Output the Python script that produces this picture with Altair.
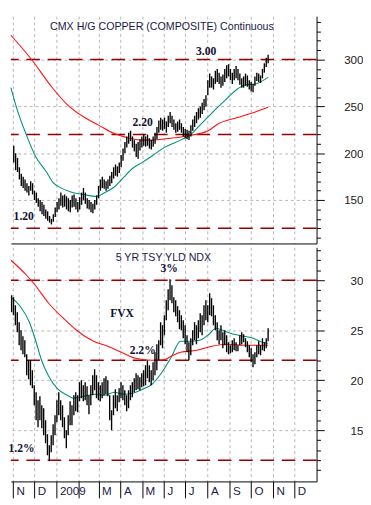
import altair as alt
import pandas as pd

# ---------------- copper (cents/lb), high / low about every 2.6 days ----------------
cu_first_day = "2008-11-02"
cu_last_day = "2009-10-25"
cu_high = [208, 200, 195, 185, 178, 175, 172, 168, 165, 170,
           168, 160, 158, 152, 150, 148, 145, 140, 138, 133,
           130, 135, 142, 148, 152, 158, 155, 156, 154, 152,
           150, 155, 156, 152, 148, 153, 158, 163, 158, 152,
           150, 148, 146, 150, 155, 165, 172, 175, 172, 170,
           172, 176, 180, 185, 188, 186, 190, 198, 205, 212,
           218, 222, 224, 218, 214, 210, 212, 215, 218, 220,
           218, 220, 216, 214, 218, 222, 228, 235, 238, 236,
           238, 234, 240, 244, 240, 236, 232, 234, 236, 232,
           228, 226, 225, 224, 230, 236, 240, 244, 248, 250,
           254, 258, 262, 278, 285, 282, 280, 288, 290, 286,
           282, 284, 290, 294, 295, 290, 286, 290, 293, 290,
           285, 280, 282, 285, 283, 278, 276, 274, 282, 286,
           285, 283, 290, 296, 302, 305]
cu_low = [190, 182, 180, 172, 165, 163, 160, 158, 155, 160,
          156, 150, 147, 143, 138, 135, 133, 130, 128, 126,
          124, 127, 132, 137, 140, 144, 142, 143, 140, 138,
          137, 142, 143, 140, 137, 140, 145, 150, 146, 141,
          140, 137, 136, 140, 145, 152, 160, 163, 162, 160,
          162, 165, 168, 173, 176, 175, 179, 185, 192, 200,
          206, 210, 213, 206, 202, 196, 194, 203, 206, 208,
          207, 208, 205, 204, 207, 210, 215, 222, 225, 224,
          226, 222, 228, 232, 228, 225, 222, 223, 225, 222,
          218, 216, 215, 214, 218, 224, 228, 232, 236, 238,
          242, 246, 250, 262, 270, 270, 268, 274, 276, 274,
          270, 272, 276, 280, 282, 278, 274, 278, 280, 278,
          273, 270, 270, 272, 271, 268, 266, 265, 272, 277,
          276, 275, 280, 286, 292, 296]

cu_green_dates = ["2008-10-29", "2008-11-07", "2008-11-20", "2008-12-03", "2008-12-17",
                  "2008-12-27", "2009-01-07", "2009-01-20", "2009-02-08", "2009-02-25",
                  "2009-03-10", "2009-03-23", "2009-04-05", "2009-04-18", "2009-05-01",
                  "2009-05-15", "2009-06-01", "2009-06-24", "2009-07-07", "2009-07-20",
                  "2009-08-02", "2009-08-15", "2009-08-29", "2009-09-11", "2009-09-24",
                  "2009-10-07", "2009-10-25"]
cu_green = [270, 246, 219, 196, 181, 169, 163, 159, 156, 154, 158, 164, 174, 184, 190,
            197, 206, 214, 219, 229, 239, 249, 259, 268, 273, 274, 281]

cu_red_dates = ["2008-10-29", "2008-11-27", "2008-12-25", "2009-01-16", "2009-02-12",
                "2009-03-01", "2009-03-23", "2009-04-14", "2009-05-01", "2009-05-15",
                "2009-06-10", "2009-07-07", "2009-08-02", "2009-08-15", "2009-09-11",
                "2009-10-07", "2009-10-25"]
cu_red = [326, 300, 271, 252, 237, 230, 221, 216, 214, 214, 216, 219, 224, 231, 238, 244, 249]

cu_levels = [300, 220, 120]

cu_text = ["CMX H/G COPPER (COMPOSITE) Continuous", "3.00", "2.20", "1.20"]
cu_text_dates = ["2009-05-29", "2009-07-30", "2009-05-02", "2008-11-16"]
cu_text_vals = [335, 309, 233, 133]

# ---------------- 5 year treasury yield index (FVX) ----------------
fvx_first_day = "2008-10-30"
fvx_last_day = "2009-10-25"
fvx_high = [28.5, 28.3, 27.5, 26.8, 25.8, 25.0, 24.4, 24.0, 22.6, 22.0,
            22.0, 21.0, 19.5, 18.8, 18.0, 18.4, 17.5, 17.2, 16.0, 14.6,
            13.5, 14.5, 15.6, 16.5, 18.0, 18.8, 18.0, 17.5, 16.3, 15.0,
            16.5, 17.9, 17.5, 18.5, 18.8, 18.5, 19.8, 20.0, 19.5, 19.8,
            19.4, 18.5, 19.5, 20.5, 21.1, 20.5, 19.8, 19.5, 19.8, 20.2,
            20.4, 20.0, 18.5, 17.0, 18.5, 19.1, 18.5, 19.2, 19.8, 19.5,
            19.0, 18.5, 19.0, 19.5, 19.8, 20.2, 20.7, 20.5, 20.3, 20.7,
            21.0, 21.5, 22.0, 21.5, 21.0, 21.8, 22.8, 23.6, 24.0, 25.8,
            25.5, 26.5, 28.0, 29.1, 30.1, 29.5, 28.3, 28.0, 27.4, 27.0,
            26.5, 26.0, 25.5, 24.5, 23.8, 24.2, 25.0, 25.8, 25.5, 26.0,
            26.7, 26.5, 27.5, 28.0, 27.5, 28.7, 28.2, 27.5, 26.5, 25.8,
            25.0, 25.5, 24.8, 25.0, 24.5, 23.8, 23.5, 24.0, 24.2, 23.8,
            23.5, 24.5, 24.8, 24.6, 24.2, 23.9, 23.5, 23.2, 22.6, 22.8,
            23.5, 23.9, 23.5, 24.2, 23.8, 24.2, 25.2]
fvx_low = [26.8, 26.5, 25.5, 24.8, 23.5, 23.0, 22.6, 22.3, 20.5, 20.1,
           19.5, 19.2, 17.5, 16.0, 15.3, 16.0, 15.2, 14.5, 13.7, 12.5,
           11.9, 12.8, 13.5, 14.5, 15.8, 16.5, 16.0, 15.3, 14.2, 13.2,
           14.5, 15.5, 15.5, 16.5, 16.9, 16.8, 17.9, 18.2, 17.9, 18.0,
           17.5, 16.6, 17.5, 18.5, 19.0, 18.2, 18.0, 17.9, 18.2, 18.5,
           18.6, 18.4, 16.0, 15.0, 16.5, 17.2, 16.9, 17.8, 18.2, 18.0,
           17.5, 16.9, 17.2, 18.0, 18.3, 18.8, 19.0, 19.1, 19.0, 19.3,
           19.4, 19.5, 20.2, 19.8, 19.5, 20.0, 20.5, 21.0, 22.0, 23.5,
           23.2, 24.5, 26.0, 27.0, 28.0, 27.7, 26.8, 26.4, 25.8, 25.1,
           25.0, 24.2, 23.6, 22.8, 22.0, 22.5, 23.5, 24.0, 23.6, 24.2,
           24.8, 24.5, 25.5, 26.0, 25.8, 26.5, 26.4, 25.5, 25.0, 24.0,
           23.6, 24.0, 23.2, 23.5, 22.8, 22.6, 22.7, 22.8, 23.0, 22.9,
           22.9, 23.5, 23.6, 23.8, 23.3, 22.8, 22.3, 21.8, 21.3, 21.6,
           22.3, 22.6, 22.5, 23.0, 22.9, 23.2, 23.9]

fvx_green_dates = ["2008-10-29", "2008-11-11", "2008-11-24", "2008-12-03", "2008-12-11",
                   "2008-12-21", "2009-01-03", "2009-01-16", "2009-01-25", "2009-02-08",
                   "2009-02-25", "2009-03-10", "2009-03-23", "2009-04-05", "2009-04-18",
                   "2009-05-02", "2009-05-15", "2009-05-28", "2009-06-11", "2009-06-24",
                   "2009-07-07", "2009-07-21", "2009-08-03", "2009-08-13", "2009-08-25",
                   "2009-09-07", "2009-09-21", "2009-10-04", "2009-10-17", "2009-10-25"]
fvx_green = [28.3, 27.4, 25.8, 23.9, 22.0, 20.4, 19.1, 18.5, 18.2, 18.4,
             18.6, 18.5, 18.8, 18.6, 18.7, 19.1, 19.6, 20.7, 22.3, 23.9,
             23.9, 24.0, 24.6, 25.2, 24.9, 24.6, 24.4, 24.2, 23.8, 23.7]

fvx_red_dates = ["2008-10-29", "2008-11-20", "2008-12-01", "2008-12-21", "2009-01-12",
                 "2009-01-29", "2009-02-22", "2009-03-14", "2009-04-05", "2009-04-22",
                 "2009-05-15", "2009-06-01", "2009-06-11", "2009-06-24", "2009-07-17",
                 "2009-08-07", "2009-08-29", "2009-09-21", "2009-10-12", "2009-10-25"]
fvx_red = [32.0, 30.5, 29.6, 27.7, 26.1, 25.0, 23.9, 23.4, 22.7, 22.2,
           22.0, 22.05, 22.4, 22.8, 23.0, 23.4, 23.6, 23.5, 23.5, 23.5]

fvx_levels = [30, 22, 12]

fvx_text = ["5 YR TSY YLD NDX", "3%", "FVX", "2.2%", "1.2%"]
fvx_text_dates = ["2009-05-31", "2009-06-08", "2009-04-03", "2009-05-02", "2008-11-13"]
fvx_text_vals = [32.25, 31.2, 26.75, 23.05, 13.25]

month_starts = [(2008, 11), (2008, 12), (2009, 1), (2009, 2), (2009, 3), (2009, 4), (2009, 5),
                (2009, 6), (2009, 7), (2009, 8), (2009, 9), (2009, 10), (2009, 11), (2009, 12)]

# ---------------- frames ----------------
cu_df = pd.DataFrame({"date": pd.date_range(cu_first_day, cu_last_day, periods=len(cu_high)),
                      "high": cu_high, "low": cu_low})
cu_g_df = pd.DataFrame({"date": pd.to_datetime(cu_green_dates), "v": cu_green})
cu_r_df = pd.DataFrame({"date": pd.to_datetime(cu_red_dates), "v": cu_red})
cu_l_df = pd.DataFrame({"v": cu_levels})
cu_t_df = pd.DataFrame({"date": pd.to_datetime(cu_text_dates), "v": cu_text_vals, "t": cu_text})

fvx_df = pd.DataFrame({"date": pd.date_range(fvx_first_day, fvx_last_day, periods=len(fvx_high)),
                       "high": fvx_high, "low": fvx_low})
fvx_g_df = pd.DataFrame({"date": pd.to_datetime(fvx_green_dates), "v": fvx_green})
fvx_r_df = pd.DataFrame({"date": pd.to_datetime(fvx_red_dates), "v": fvx_red})
fvx_l_df = pd.DataFrame({"v": fvx_levels})
fvx_t_df = pd.DataFrame({"date": pd.to_datetime(fvx_text_dates), "v": fvx_text_vals, "t": fvx_text})

# ---------------- scales / axes ----------------
W = 316
H_TOP = 235
H_BOT = 242
GRID = "#b4b4b4"
RED_LVL = "#990000"
GREEN = "#00907c"
RED = "#ff1010"
TXT = "#1a1a48"

x_scale = alt.Scale(domain=[alt.DateTime(year=2008, month=10, date=29),
                            alt.DateTime(year=2010, month=1, date=1)], nice=False)
tick_dates = [alt.DateTime(year=y, month=m, date=1) for y, m in month_starts]

x_top_axis = alt.Axis(values=tick_dates, labels=False, ticks=False, domain=True,
                      domainColor="black", domainWidth=1, grid=True, gridColor=GRID,
                      gridDash=[3, 3], gridWidth=1, title=None)
x_bot_axis = alt.Axis(values=tick_dates,
                      labelExpr="month(datum.value) == 0 ? timeFormat(datum.value, '%Y') : "
                                "(month(datum.value) == 1 ? '' : slice(timeFormat(datum.value, '%b'), 0, 1))",
                      tickSize=17, tickColor="black", tickWidth=1,
                      labelAlign="left", labelBaseline="top", labelPadding=-12, labelOffset=3,
                      labelFont="Liberation Sans", labelFontSize=12, labelColor=TXT,
                      labelFlush=False, labelOverlap=False,
                      domain=True, domainColor="black", domainWidth=1,
                      grid=True, gridColor=GRID, gridDash=[3, 3], gridWidth=1, title=None)


def y_axis(values, step):
    test = f"datum.value % {step} === 0"
    return alt.Axis(orient="right", values=values,
                    labelExpr=f"{test} ? datum.label : ''",
                    tickSize={"condition": {"test": test, "value": 8}, "value": 4},
                    tickColor="black", tickWidth=1,
                    gridOpacity={"condition": {"test": test, "value": 1}, "value": 0},
                    grid=True, gridColor=GRID, gridDash=[3, 3], gridWidth=1,
                    domain=True, domainColor="black", domainWidth=1,
                    labelAlign="right", labelPadding=40, labelFont="Liberation Sans",
                    labelFontSize=12, labelColor="#222222", labelOverlap=False,
                    labelFlush=False, title=None)


y_top_scale = alt.Scale(domain=[103.7, 346.3], nice=False, zero=False)
y_bot_scale = alt.Scale(domain=[9.88, 33.29], nice=False, zero=False)
y_top_axis = y_axis(list(range(110, 341, 10)), 50)
y_bot_axis = y_axis(list(range(11, 34)), 5)


def panel(bars, green, red, levels, texts, y_scale, y_ax, x_ax, height):
    X = alt.X("date:T", scale=x_scale, axis=x_ax)
    lv = alt.Chart(levels).mark_rule(color=RED_LVL, strokeDash=[14, 8], strokeWidth=1.4).encode(
        y=alt.Y("v:Q", scale=y_scale, axis=y_ax))
    g = alt.Chart(green).mark_line(color=GREEN, strokeWidth=1.1, interpolate="monotone").encode(
        x=X, y=alt.Y("v:Q", scale=y_scale, axis=y_ax))
    r = alt.Chart(red).mark_line(color=RED, strokeWidth=1.1, interpolate="monotone").encode(
        x=X, y=alt.Y("v:Q", scale=y_scale, axis=y_ax))
    b = alt.Chart(bars).mark_rule(color="black", strokeWidth=1.4).encode(
        x=X, y=alt.Y("low:Q", scale=y_scale, axis=y_ax), y2="high:Q")
    first = texts.iloc[:1]
    rest = texts.iloc[1:]
    t1 = alt.Chart(first).mark_text(font="Liberation Sans", fontSize=11, color=TXT,
                                    baseline="middle", align="center").encode(
        x=X, y=alt.Y("v:Q", scale=y_scale, axis=y_ax), text="t:N")
    t2 = alt.Chart(rest).mark_text(font="Liberation Serif", fontWeight="bold", fontSize=12,
                                   color="#111133", baseline="middle", align="center").encode(
        x=X, y=alt.Y("v:Q", scale=y_scale, axis=y_ax), text="t:N")
    return alt.layer(lv, g, r, b, t1, t2).properties(width=W, height=height)


top = panel(cu_df, cu_g_df, cu_r_df, cu_l_df, cu_t_df, y_top_scale, y_top_axis, x_top_axis, H_TOP)
bot = panel(fvx_df, fvx_g_df, fvx_r_df, fvx_l_df, fvx_t_df, y_bot_scale, y_bot_axis, x_bot_axis, H_BOT)

chart = alt.vconcat(top, bot, spacing=0).properties(
    padding={"left": 0, "top": 0, "right": 0, "bottom": 0},
    background="white",
).configure_view(stroke=None)

chart.save("out.html", embed_options={"renderer": "svg", "actions": False})
